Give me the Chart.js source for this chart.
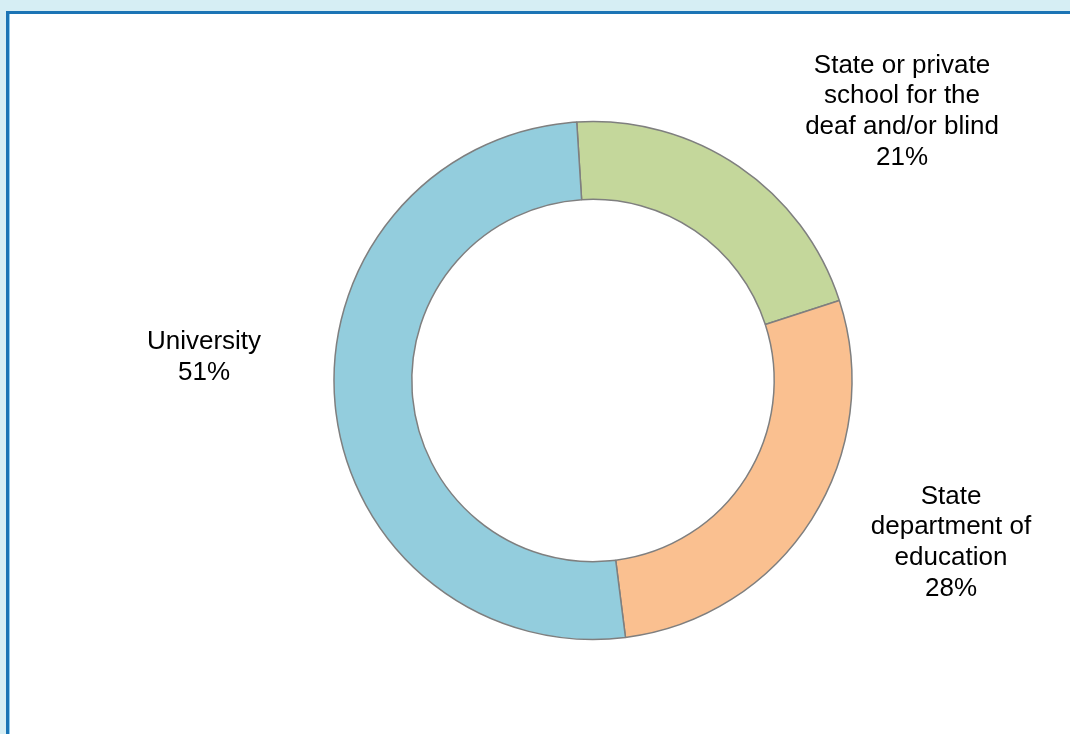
<!DOCTYPE html>
<html>
<head>
<meta charset="utf-8">
<script src="https://cdn.jsdelivr.net/npm/chart.js@4/dist/chart.umd.min.js"></script>
<style>
  html, body { margin: 0; padding: 0; background: #d6eef4; overflow: hidden; }
  #panel {
    position: absolute; left: 6px; top: 11px; width: 1100px; height: 760px;
    background: #ffffff;
    border-left: 3px solid #1b74b5; border-top: 3px solid #1b74b5;
    box-shadow: inset 1px 0 0 #8ccbf0;
  }
  #myChart { position: absolute; left: 0; top: 0; }
</style>
</head>
<body>
<div id="panel"></div>
<canvas id="myChart" width="1070" height="734"></canvas>
<script>
// who provides the service, share of respondents
const categories = [
    ['State or private', 'school for the', 'deaf and/or blind'],
    ['State', 'department of', 'education'],
    ['University']
];
const shares = [21, 28, 51];
const sliceColors = ['#c4d79b', '#fac090', '#93cddd'];
// label block centres, relative to the ring centre
const labelOffsets = [[309, -269], [358, 162], [-389, -23]];

const ringLabels = {
    id: 'ringLabels',
    afterDatasetsDraw(chart) {
        const ctx = chart.ctx;
        const arcs = chart.getDatasetMeta(0).data;
        ctx.save();
        ctx.font = '26px "Liberation Sans", Arial, sans-serif';
        ctx.fillStyle = '#000000';
        ctx.textAlign = 'center';
        ctx.textBaseline = 'middle';
        arcs.forEach(function (arc, i) {
            const lines = categories[i].concat([shares[i] + '%']);
            const lh = 30.6;
            const cx = arc.x + labelOffsets[i][0];
            const cy = arc.y + labelOffsets[i][1] - (lines.length - 1) * lh / 2;
            lines.forEach(function (line, j) {
                ctx.fillText(line, cx, cy + j * lh);
            });
        });
        ctx.restore();
    }
};

function myLoadFunction() {
    const ctx = document.getElementById('myChart').getContext('2d');
    var myChartConfig = {
        type: 'doughnut',
        data: {
            labels: categories.map(function (c) { return c.join(' '); }),
            datasets: [{
                data: shares,
                backgroundColor: sliceColors,
                borderColor: '#7f7f7f',
                borderWidth: 1.5,
                borderAlign: 'center'
            }]
        },
        options: {
            responsive: false,
            animation: false,
            rotation: -3.6,
            radius: 259,
            cutout: 181,
            layout: { padding: { left: 333, right: 217, top: 121, bottom: 94 } },
            plugins: {
                legend: { display: false },
                tooltip: { enabled: false }
            }
        },
        plugins: [ringLabels]
    };
    const myChart = new Chart(ctx, myChartConfig);
}

document.addEventListener('DOMContentLoaded', myLoadFunction);
</script>
</body>
</html>
